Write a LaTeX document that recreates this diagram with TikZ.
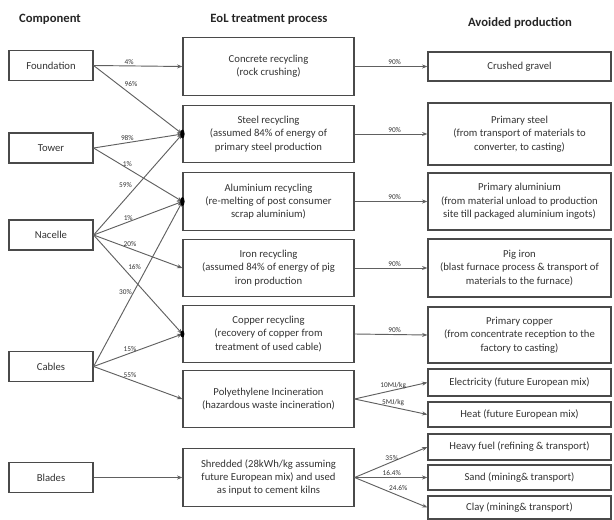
\documentclass[tikz,border=0pt]{standalone}
\usepackage{fontspec}
\setmainfont{Carlito}
\usetikzlibrary{arrows.meta}
\definecolor{boxline}{HTML}{4A4A4A}
\definecolor{flowline}{HTML}{606060}
\definecolor{txt}{HTML}{333333}
\begin{document}
\begin{tikzpicture}[
    x=0.75pt, y=-0.75pt,
    box/.style={
        rectangle, draw=boxline, line width=0.9pt, align=center,
        text=txt, font=\fontsize{8}{10}\selectfont, inner sep=2pt
    },
    comp/.style={box, minimum width=63pt, minimum height=22.5pt},
    proc/.style={box, minimum width=128.25pt, minimum height=43pt},
    avoid/.style={box, minimum width=137.25pt},
    header/.style={font=\fontsize{9.5}{11}\selectfont\bfseries, text=black!85},
    flow/.style={-{Stealth[length=4pt,width=3pt]}, draw=flowline, line width=0.7pt},
    pct/.style={font=\fontsize{5.5}{6}\selectfont, text=txt, inner sep=1pt},
    blob/.style={fill=black},
]
\useasboundingbox (0,0) rectangle (614,520);

% ── Column headers ───────────────────────────────────────────
\node[header] (hComp)  at (50,19)  {Component};
\node[header] (hProc)  at (269,19) {EoL treatment process};
\node[header] (hAvoid) at (520,23) {Avoided production};

% ── Components ───────────────────────────────────────────────
\node[comp] (found)   at (51,65.5)  {Foundation};
\node[comp] (tower)   at (51,148)   {Tower};
\node[comp] (nacelle) at (51,235)   {Nacelle};
\node[comp] (cables)  at (51,366.5) {Cables};
\node[comp] (blades)  at (51,477.5) {Blades};

% ── EoL treatment ────────────────────────────────────────────
\node[proc] (concrete) at (268.5,66.5) {Concrete recycling\\(rock crushing)};
\node[proc] (steel)    at (268.5,134)  {Steel recycling\\(assumed 84\% of energy of\\primary steel production};
\node[proc] (alu)      at (268.5,201.5){Aluminium recycling\\(re-melting of post consumer\\scrap aluminium)};
\node[proc] (iron)     at (268.5,268)  {Iron recycling\\(assumed 84\% of energy of pig\\iron production};
\node[proc] (copper)   at (268.5,334)  {Copper recycling\\(recovery of copper from\\treatment of used cable)};
\node[proc] (poly)     at (268.5,399)  {Polyethylene Incineration\\(hazardous waste incineration)};
\node[proc] (shred)    at (268.5,477.5){Shredded (28kWh/kg assuming\\future European mix) and used\\as input to cement kilns};

% ── Avoided production ───────────────────────────────────────
\node[avoid, minimum height=21.75pt] (gravel)  at (519.5,66.5)  {Crushed gravel};
\node[avoid, minimum height=46.5pt]  (psteel)  at (519.5,134)   {Primary steel\\(from transport of materials to\\converter, to casting)};
\node[avoid, minimum height=42.75pt] (palu)    at (519.5,201.5) {Primary aluminium\\(from material unload to production\\site till packaged aluminium ingots)};
\node[avoid, minimum height=43.5pt]  (pig)     at (519.5,268)   {Pig iron\\(blast furnace process \& transport of\\materials to the furnace)};
\node[avoid, minimum height=42pt]    (pcopper) at (519.5,335)   {Primary copper\\(from concentrate reception to the\\factory to casting)};
\node[avoid, minimum height=20.25pt] (elec)    at (519.5,382.5) {Electricity (future European mix)};
\node[avoid, minimum height=18.75pt] (heat)    at (519.5,414.5) {Heat (future European mix)};
\node[avoid, minimum height=19.5pt]  (fuel)    at (519.5,447)   {Heavy fuel (refining \& transport)};
\node[avoid, minimum height=18.75pt] (sand)    at (519.5,477.5) {Sand (mining\& transport)};
\node[avoid, minimum height=17.25pt] (clay)    at (519.5,507.5) {Clay (mining\& transport)};

% ── Component -> treatment ───────────────────────────────────
\draw[flow] (found.east)   -- node[pct, pos=0.4, above] {4\%} (concrete.west);
\draw[flow] (found.east)   -- node[pct, pos=0.33, above right] {96\%} (steel.west);
\draw[flow] (tower.east)   -- node[pct, pos=0.38, above] {98\%} (steel.west);
\draw[flow] (tower.east)   -- node[pct, pos=0.38, above] {1\%} (alu.west);
\draw[flow] (nacelle.east) -- node[pct, pos=0.45, above left] {59\%} (steel.west);
\draw[flow] (nacelle.east) -- node[pct, pos=0.39, above] {1\%} (alu.west);
\draw[flow] (nacelle.east) -- node[pct, pos=0.41, above] {20\%} (iron.west);
\draw[flow] (nacelle.east) -- node[pct, pos=0.37, above right] {16\%} (copper.west);
\draw[flow] (cables.east)  -- node[pct, pos=0.45, left] {30\%} (alu.west);
\draw[flow] (cables.east)  -- node[pct, pos=0.41, above] {15\%} (copper.west);
\draw[flow] (cables.east)  -- node[pct, pos=0.41, above] {55\%} (poly.west);
\draw[flow] (blades.east)  -- (shred.west);

% converging arrow heads
\fill[blob] (steel.west)  ellipse (2.2 and 4.5);
\fill[blob] (alu.west)    ellipse (2.2 and 4.5);
\fill[blob] (copper.west) ellipse (2 and 3.5);

% ── Treatment -> avoided production ──────────────────────────
\draw[flow] (concrete.east) -- node[pct, pos=0.55, above] {90\%} (gravel.west);
\draw[flow] (steel.east)    -- node[pct, pos=0.55, above] {90\%} (psteel.west);
\draw[flow] (alu.east)      -- node[pct, pos=0.55, above] {90\%} (palu.west);
\draw[flow] (iron.east)     -- node[pct, pos=0.55, above] {90\%} (pig.west);
\draw[flow] (copper.east)   -- node[pct, pos=0.55, above] {90\%} (pcopper.west);
\draw[flow] (poly.east)     -- node[pct, pos=0.53, above] {10MJ/kg} (elec.west);
\draw[flow] (poly.east)     -- node[pct, pos=0.53, above] {5MJ/kg} (heat.west);
\draw[flow] (shred.east)    -- node[pct, pos=0.51, above] {35\%} (fuel.west);
\draw[flow] (shred.east)    -- node[pct, pos=0.51, above] {16.4\%} (sand.west);
\draw[flow] (shred.east)    -- node[pct, pos=0.6, above, yshift=2pt] {24.6\%} (clay.west);

\end{tikzpicture}
\end{document}
